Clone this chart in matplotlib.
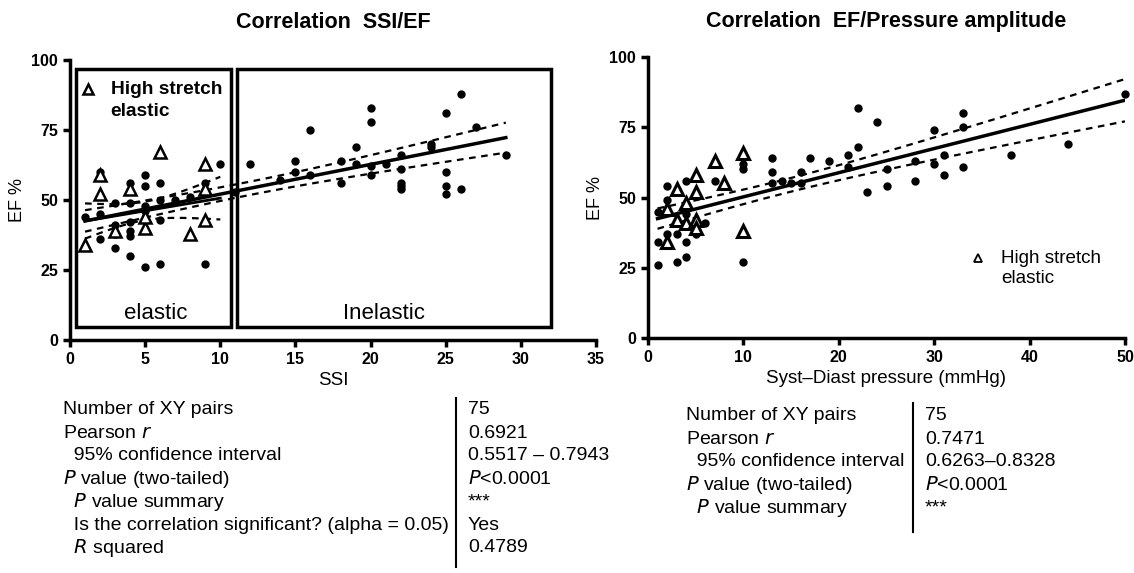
import numpy as np
import matplotlib
matplotlib.use("Agg")
import matplotlib.pyplot as plt

plt.rcParams['font.family'] = ['Liberation Sans', 'DejaVu Sans']

# left panel: SSI vs EF
tri_ssi = [1, 2, 2, 3, 4, 5, 5, 6, 8, 9, 9, 9]
tri_ef_ssi = [34, 59, 52, 39, 54, 40, 44, 67, 38, 63, 54, 43]
dot_ssi = [1, 2, 2, 2, 3, 3, 3, 3, 4, 4, 4, 4, 4, 4, 5, 5, 5, 5, 5, 6, 6, 6, 6, 7, 8, 9, 9, 10,
           11, 12, 14, 15, 15, 16, 16, 18, 18, 19, 19, 20, 20, 20, 20, 21, 22, 22, 22, 22, 22,
           24, 24, 25, 25, 25, 25, 26, 26, 27, 29]
dot_ef_ssi = [44, 60, 45, 36, 49, 33, 38, 41, 56, 49, 42, 39, 37, 30, 59, 55, 48, 46, 26, 56, 50, 43, 27, 50, 51, 56, 27, 63,
              53, 63, 57, 64, 60, 75, 59, 64, 56, 69, 63, 83, 78, 62, 59, 63, 66, 61, 56, 54, 55,
              70, 69, 81, 60, 55, 52, 88, 54, 76, 66]

# right panel: pressure amplitude vs EF
tri_pa = [2, 2, 3, 3, 4, 4, 5, 5, 5, 5, 7, 8, 10, 10]
tri_ef_pa = [34, 46, 53, 42, 48, 41, 58, 52, 42, 39, 63, 55, 66, 38]
dot_pa = [1, 1, 1, 2, 2, 2, 3, 3, 4, 4, 4, 4, 5, 6, 7, 10, 10, 10, 13, 13, 13, 14, 15, 16, 16,
          17, 19, 21, 21, 22, 22, 23, 24, 25, 25, 28, 28, 30, 30, 31, 31, 33, 33, 33, 38, 44, 50]
dot_ef_pa = [45, 34, 26, 54, 49, 37, 37, 27, 56, 34, 29, 44, 37, 41, 56, 62, 60, 27, 64, 59, 55, 56, 55, 59, 55,
             64, 63, 65, 61, 82, 68, 52, 77, 60, 54, 63, 56, 74, 62, 65, 58, 80, 75, 61, 65, 69, 87]

table_left_labels = ["Number of XY pairs", "Pearson $\\it{r}$", "  95% confidence interval",
                     "$\\it{P}$ value (two-tailed)", "  $\\it{P}$ value summary",
                     "  Is the correlation significant? (alpha = 0.05)", "  $\\it{R}$ squared"]
table_left_values = ["75", "0.6921", "0.5517 \u2013 0.7943", "$\\it{P}$<0.0001", "***", "Yes", "0.4789"]
table_right_labels = ["Number of XY pairs", "Pearson $\\it{r}$", "  95% confidence interval",
                      "$\\it{P}$ value (two-tailed)", "  $\\it{P}$ value summary"]
table_right_values = ["75", "0.7471", "0.6263\u20130.8328", "$\\it{P}$<0.0001", "***"]

W, H = 1134, 573


def fx(px):
    return px / W


def fy(py):
    return 1 - py / H


def fit_band(ax, x, y, x0, x1, lw=2.5):
    x = np.asarray(x, float)
    y = np.asarray(y, float)
    n = len(x)
    b, a = np.polyfit(x, y, 1)
    res = y - (a + b * x)
    s = np.sqrt(np.sum(res ** 2) / (n - 2))
    sxx = np.sum((x - x.mean()) ** 2)
    xs = np.linspace(x0, x1, 100)
    yh = a + b * xs
    half = 1.99 * s * np.sqrt(1 / n + (xs - x.mean()) ** 2 / sxx)
    ax.plot(xs, yh, "k-", lw=lw, zorder=3)
    ax.plot(xs, yh + half, color="k", lw=1.6, ls=(0, (3, 2.5)), zorder=3)
    ax.plot(xs, yh - half, color="k", lw=1.6, ls=(0, (3, 2.5)), zorder=3)


def style_axes(ax):
    for s in ["top", "right"]:
        ax.spines[s].set_visible(False)
    for s in ["left", "bottom"]:
        ax.spines[s].set_linewidth(2.5)
    ax.tick_params(width=2.5, length=5, labelsize=11.5)
    for lab in ax.get_xticklabels() + ax.get_yticklabels():
        lab.set_fontweight("bold")
    ax.set_ylim(0, 100)
    ax.set_yticks([0, 25, 50, 75, 100])
    ax.set_ylabel("EF %", fontsize=13)


fig = plt.figure(figsize=(W / 100, H / 100), dpi=100)

# ---- left
ax1 = fig.add_axes([fx(70), fy(340), fx(596) - fx(70), fy(60) - fy(340)])
ax1.set_xlim(0, 35)
ax1.set_xticks(range(0, 36, 5))
style_axes(ax1)
ax1.set_xlabel("SSI", fontsize=13.5)
ax1.add_patch(plt.Rectangle((0.4, 4.5), 10.3, 92.2, fill=False, lw=2.5, ec="k"))
ax1.add_patch(plt.Rectangle((11.1, 4.5), 20.9, 92.2, fill=False, lw=2.5, ec="k"))
ax1.text(5.7, 9.5, "elastic", ha="center", va="center", fontsize=16)
ax1.text(20.9, 9.5, "Inelastic", ha="center", va="center", fontsize=16)
ax1.plot(dot_ssi, dot_ef_ssi, "ko", ms=5, zorder=4)
ax1.plot(tri_ssi, tri_ef_ssi, "k^", mfc="white", ms=8, mew=1.8, zorder=5)
all_ssi = tri_ssi + dot_ssi
all_ef_ssi = tri_ef_ssi + dot_ef_ssi
fit_band(ax1, all_ssi, all_ef_ssi, 1, 29)
el_x = [v for v in all_ssi if v <= 10]
el_y = [e for v, e in zip(all_ssi, all_ef_ssi) if v <= 10]
fit_band(ax1, el_x, el_y, 1, 10, lw=2)
ax1.plot([1.2], [89.5], "k^", mfc="white", ms=7, mew=1.8)
ax1.text(2.7, 89.5, "High stretch", fontsize=13.8, fontweight="bold", va="center")
ax1.text(2.7, 81.5, "elastic", fontsize=13.8, fontweight="bold", va="center")
fig.text(fx(333), fy(22), "Correlation  SSI/EF", ha="center", va="center",
         fontsize=15.5, fontweight="bold")

# ---- right
ax2 = fig.add_axes([fx(648), fy(338), fx(1125) - fx(648), fy(57) - fy(338)])
ax2.set_xlim(0, 50)
ax2.set_xticks(range(0, 51, 10))
style_axes(ax2)
ax2.set_xlabel("Syst\u2013Diast pressure (mmHg)", fontsize=13.5)
ax2.plot(dot_pa, dot_ef_pa, "ko", ms=5, zorder=4, clip_on=False)
ax2.plot(tri_pa, tri_ef_pa, "k^", mfc="white", ms=8, mew=2.2, zorder=5)
fit_band(ax2, tri_pa + dot_pa, tri_ef_pa + dot_ef_pa, 1, 50)
ax2.plot([34.6], [28.4], "k^", mfc="white", ms=6, mew=1.3)
ax2.text(37, 28.4, "High stretch", fontsize=13.6, va="center")
ax2.text(37, 21, "elastic", fontsize=13.6, va="center")
fig.text(fx(886), fy(22), "Correlation  EF/Pressure amplitude", ha="center", va="center",
         fontsize=15.5, fontweight="bold")

# ---- tables
for i, (lab, val) in enumerate(zip(table_left_labels, table_left_values)):
    y = fy(410 + i * 23)
    fig.text(fx(63), y, lab, fontsize=14, va="center")
    fig.text(fx(468), y, val, fontsize=14, va="center")
fig.add_artist(plt.Line2D([fx(456), fx(456)], [fy(398), fy(567)], color="k", lw=1.5))

for i, (lab, val) in enumerate(zip(table_right_labels, table_right_values)):
    y = fy(416 + i * 23)
    fig.text(fx(686), y, lab, fontsize=14, va="center")
    fig.text(fx(925), y, val, fontsize=14, va="center")
fig.add_artist(plt.Line2D([fx(913), fx(913)], [fy(403), fy(532)], color="k", lw=1.5))

fig.savefig("out.png", dpi=100)
